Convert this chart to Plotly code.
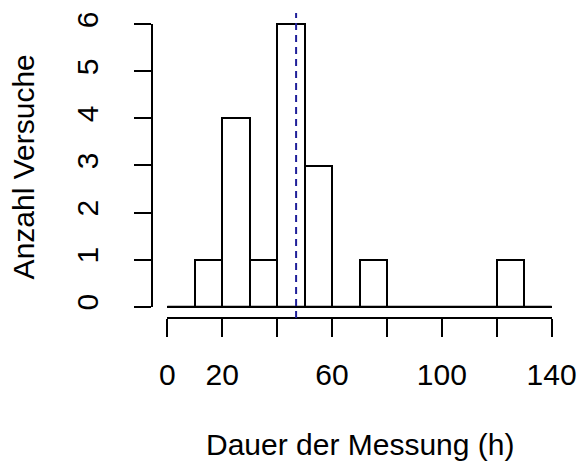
import plotly.graph_objects as go

# ---- data ----
bin_edges = [0, 10, 20, 30, 40, 50, 60, 70, 80, 90, 100, 110, 120, 130, 140]
counts = [0, 1, 4, 1, 6, 3, 0, 1, 0, 0, 0, 0, 1, 0]
mean_value = 46.9
x_tick_values = [0, 20, 40, 60, 80, 100, 120, 140]
x_tick_labels = ["0", "20", "", "60", "", "100", "", "140"]
y_tick_values = [0, 1, 2, 3, 4, 5, 6]
y_tick_labels = ["0", "1", "2", "3", "4", "5", "6"]
x_title = "Dauer der Messung (h)"
y_title = "Anzahl Versuche"

centers = [(a + b) / 2 for a, b in zip(bin_edges[:-1], bin_edges[1:])]
widths = [b - a for a, b in zip(bin_edges[:-1], bin_edges[1:])]

# R-style 4% range extension
x_lo, x_hi = bin_edges[0], bin_edges[-1]
y_lo, y_hi = 0, max(counts)
xpad = 0.04 * (x_hi - x_lo)
ypad = 0.04 * (y_hi - y_lo)
xr = [x_lo - xpad, x_hi + xpad]
yr = [y_lo - ypad, y_hi + ypad]
xdom = [(x_lo - xr[0]) / (xr[1] - xr[0]), (x_hi - xr[0]) / (xr[1] - xr[0])]
ydom = [(y_lo - yr[0]) / (yr[1] - yr[0]), (y_hi - yr[0]) / (yr[1] - yr[0])]

FONT = "Liberation Sans, Arial, sans-serif"

fig = go.Figure()
fig.add_trace(go.Bar(
    x=centers, y=counts, width=widths,
    marker=dict(color="white", line=dict(color="black", width=2)),
    showlegend=False, hoverinfo="x+y",
))
# baseline (zero-height bins)
fig.add_trace(go.Scatter(
    x=[bin_edges[0], bin_edges[-1]], y=[0, 0], mode="lines",
    line=dict(color="black", width=2), showlegend=False, hoverinfo="skip",
))
# dummy trace so the detached R-style axes are drawn
fig.add_trace(go.Scatter(
    x=[x_lo], y=[y_lo], xaxis="x2", yaxis="y2", mode="markers",
    marker=dict(opacity=0), showlegend=False, hoverinfo="skip",
))

fig.add_shape(type="line", xref="x", yref="paper",
              x0=mean_value, x1=mean_value, y0=0, y1=1,
              line=dict(color="#1f1f99", width=2, dash="7px,5px"))

fig.update_layout(
    width=579, height=464,
    margin=dict(l=152, r=12, t=13, b=146, autoexpand=False),
    paper_bgcolor="white", plot_bgcolor="rgba(0,0,0,0)",
    bargap=0,
    font=dict(family=FONT, size=30, color="black"),
    xaxis=dict(range=xr, visible=False, domain=[0, 1], automargin=False),
    yaxis=dict(range=yr, visible=False, domain=[0, 1], automargin=False),
    xaxis2=dict(
        range=[x_lo, x_hi], domain=xdom, anchor="free", position=0,
        showline=True, linecolor="black", linewidth=2,
        ticks="outside", ticklen=18, tickwidth=2, tickcolor="black",
        tickvals=x_tick_values, ticktext=x_tick_labels,
        ticklabelstandoff=12, automargin=False,
        showgrid=False, zeroline=False,
        tickfont=dict(family=FONT, size=30, color="black"),
    ),
    yaxis2=dict(
        range=[y_lo, y_hi], domain=ydom, anchor="free", position=0,
        showline=True, linecolor="black", linewidth=2,
        ticks="outside", ticklen=17, tickwidth=2, tickcolor="black",
        tickvals=y_tick_values, ticktext=y_tick_labels, tickangle=-90,
        ticklabelstandoff=24, automargin=False,
        showgrid=False, zeroline=False,
        tickfont=dict(family=FONT, size=30, color="black"),
    ),
    annotations=[
        dict(text=x_title, xref="paper", yref="paper", x=0.5, y=-0.415,
             xanchor="center", yanchor="middle", showarrow=False,
             font=dict(family=FONT, size=30, color="black")),
        dict(text=y_title, xref="paper", yref="paper", x=-0.31, y=0.495,
             xanchor="center", yanchor="middle", textangle=-90, showarrow=False,
             font=dict(family=FONT, size=30, color="black")),
    ],
)

fig.write_html("out.html", config={"displayModeBar": False},
               post_script="document.body.style.margin='0';")
